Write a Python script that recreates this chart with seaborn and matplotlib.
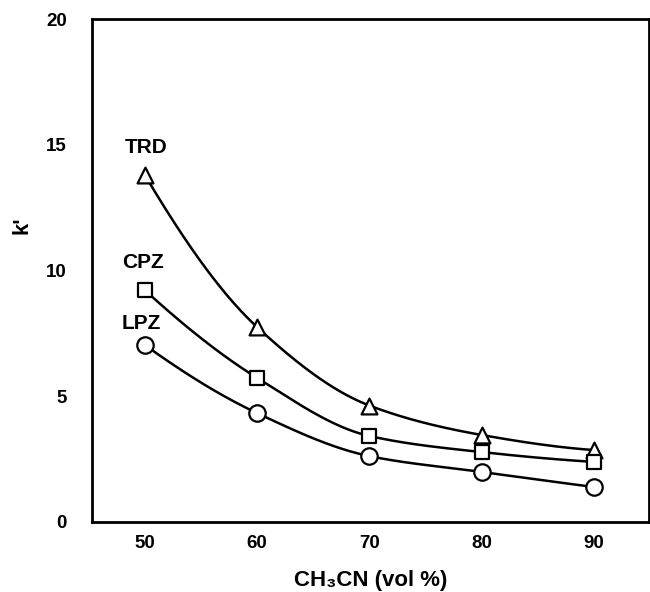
import numpy as np
import pandas as pd
import matplotlib
matplotlib.use("Agg")
import matplotlib.pyplot as plt
import seaborn as sns

# Capacity factor k' versus acetonitrile content of the mobile phase
ch3cn = [50, 60, 70, 80, 90]
trd = [13.8, 7.75, 4.63, 3.46, 2.86]
cpz = [9.22, 5.73, 3.42, 2.78, 2.39]
lpz = [7.04, 4.33, 2.62, 1.99, 1.39]

series = [
    ("TRD", trd, "^", 130, (50.1, 14.9)),
    ("CPZ", cpz, "s", 95, (49.8, 10.3)),
    ("LPZ", lpz, "o", 140, (49.7, 7.9)),
]

x_ticks = [50, 60, 70, 80, 90]
y_ticks = [0, 5, 10, 15, 20]


def pchip(x, y, xs):
    """Monotone cubic Hermite curve through (x, y), evaluated at xs."""
    x = np.asarray(x, float)
    y = np.asarray(y, float)
    h = np.diff(x)
    d = np.diff(y) / h
    m = np.zeros_like(y)
    for i in range(1, len(x) - 1):
        if d[i - 1] * d[i] > 0:
            w1 = 2 * h[i] + h[i - 1]
            w2 = h[i] + 2 * h[i - 1]
            m[i] = (w1 + w2) / (w1 / d[i - 1] + w2 / d[i])
    m[0] = ((2 * h[0] + h[1]) * d[0] - h[0] * d[1]) / (h[0] + h[1])
    if np.sign(m[0]) != np.sign(d[0]):
        m[0] = 0
    m[-1] = ((2 * h[-1] + h[-2]) * d[-1] - h[-1] * d[-2]) / (h[-1] + h[-2])
    if np.sign(m[-1]) != np.sign(d[-1]):
        m[-1] = 0
    idx = np.clip(np.searchsorted(x, xs) - 1, 0, len(x) - 2)
    t = (xs - x[idx]) / h[idx]
    h00 = 2 * t**3 - 3 * t**2 + 1
    h10 = t**3 - 2 * t**2 + t
    h01 = -2 * t**3 + 3 * t**2
    h11 = t**3 - t**2
    return (h00 * y[idx] + h10 * h[idx] * m[idx]
            + h01 * y[idx + 1] + h11 * h[idx] * m[idx + 1])


sns.set_theme(style="white")
plt.rcParams["font.family"] = ["Liberation Sans", "DejaVu Sans"]
plt.rcParams["text.color"] = "black"
plt.rcParams["axes.labelcolor"] = "black"
plt.rcParams["xtick.color"] = "black"
plt.rcParams["ytick.color"] = "black"

fig = plt.figure(figsize=(6.5, 5.92), dpi=100)
ax = fig.add_axes([92 / 650, 1 - 522 / 592, 557 / 650, 503 / 592])

xs = np.linspace(50, 90, 400)
for name, vals, marker, size, (tx, ty) in series:
    curve = pd.DataFrame({"x": xs, "y": pchip(ch3cn, vals, xs)})
    sns.lineplot(data=curve, x="x", y="y", ax=ax, color="black",
                 linewidth=1.8, sort=False, zorder=2)
    pts = pd.DataFrame({"x": ch3cn, "y": vals})
    sns.scatterplot(data=pts, x="x", y="y", ax=ax, marker=marker, s=size,
                    facecolor="white", edgecolor="black", linewidth=1.6,
                    zorder=3)
    ax.text(tx, ty, name, ha="center", va="center", fontsize=15,
            fontweight="bold", color="black")

ax.set_xlim(45.3, 94.9)
ax.set_ylim(0, 20)
ax.set_xticks(x_ticks)
ax.set_yticks(y_ticks)
ax.set_xticklabels([str(v) for v in x_ticks], fontsize=13.5, fontweight="bold")
ax.set_yticklabels([str(v) for v in y_ticks], fontsize=13.5, fontweight="bold")
ax.tick_params(axis="both", direction="in", length=7, width=1.5,
               colors="black")
ax.tick_params(axis="x", pad=9)
ax.tick_params(axis="y", pad=18)

for sp in ax.spines.values():
    sp.set_visible(True)
    sp.set_color("black")
    sp.set_linewidth(2)

ax.set_xlabel("CH\u2083CN (vol %)", fontsize=16, fontweight="bold", labelpad=13)
ax.set_ylabel("k'", fontsize=16, fontweight="bold", va="center")
ax.yaxis.set_label_coords(-0.126, 0.59)
ax.grid(False)

fig.savefig("out.png", dpi=100, facecolor="white")
